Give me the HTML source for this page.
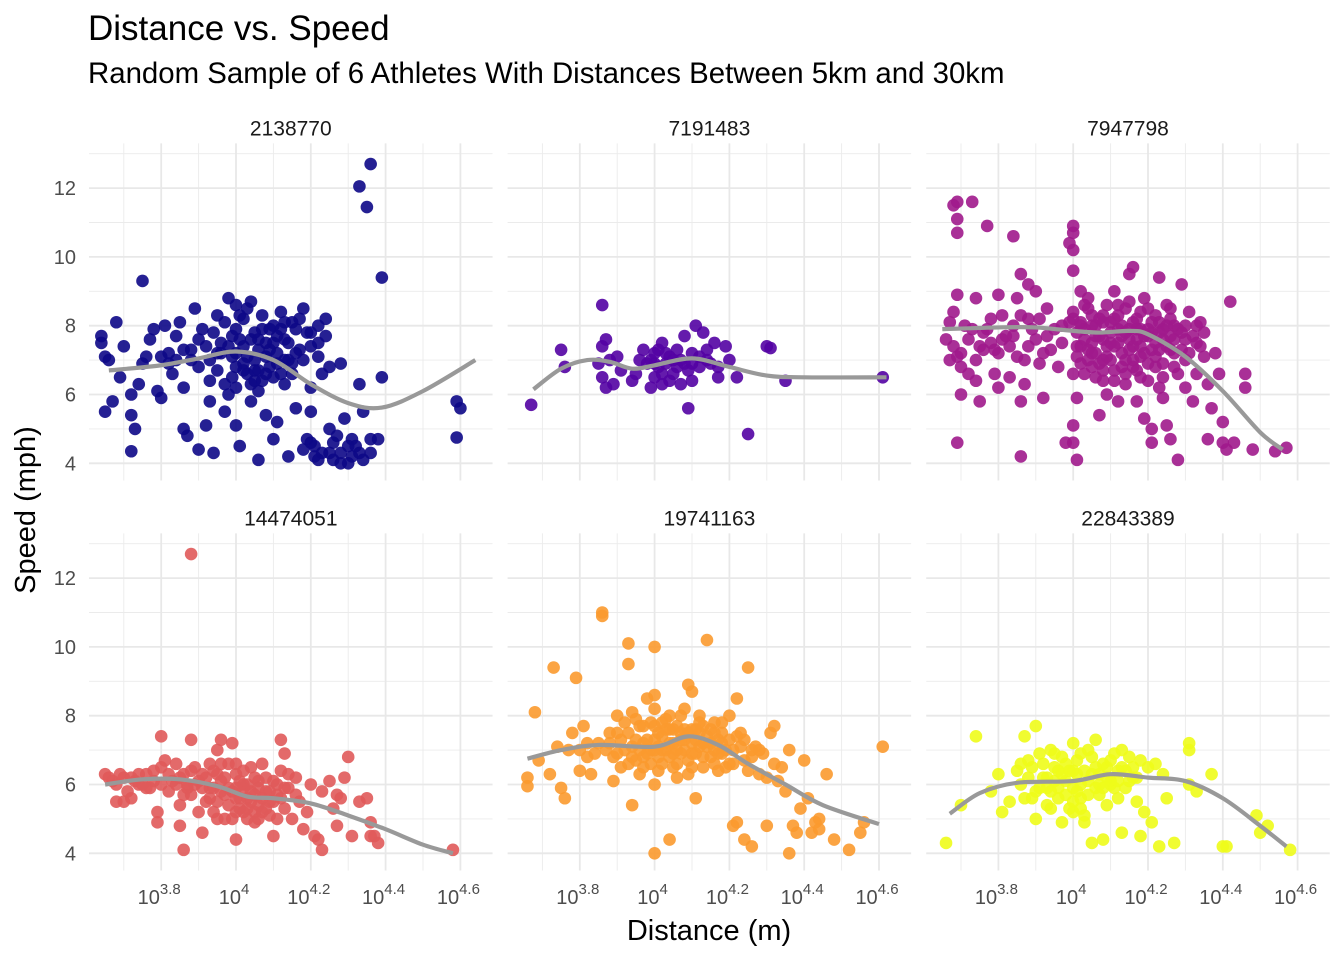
<!DOCTYPE html>
<html><head><meta charset="utf-8"><style>
body{margin:0;background:#fff;}
svg{display:block;font-family:"Liberation Sans",Arial,sans-serif;}
</style></head><body>
<svg id="chart" width="1344" height="960">
<text x="88" y="40" font-size="35" fill="#000">Distance vs. Speed</text>
<text x="88" y="83" font-size="29.4" fill="#000">Random Sample of 6 Athletes With Distances Between 5km and 30km</text>
<text x="709" y="940" font-size="29" text-anchor="middle" fill="#000">Distance (m)</text>
<text transform="translate(35,510) rotate(-90)" font-size="29" text-anchor="middle" fill="#000">Speed (mph)</text>
<g id="panels"></g>
</svg>
<script>
const athletes = ["2138770","7191483","7947798","14474051","19741163","22843389"];
const colors = ["#0d0887","#5302a3","#a01a8c","#e05a5a","#fb9a2f","#eefc1a"];
const yTicks = [4,6,8,10,12];
const xTickExps = ["3.8","4","4.2","4.4","4.6"];
const xTickVals = [3.8,4.0,4.2,4.4,4.6];
const pts0 = [[4.36,12.7],[4.33,12.05],[4.35,11.45],[4.39,9.4],[3.75,9.3],[4.59,5.8],[4.6,5.6],[4.59,4.75],[3.64,7.7],[3.64,7.5],[3.65,7.1],[3.66,7.0],[3.65,5.5],[3.67,5.8],[3.69,6.5],[3.68,8.1],[3.7,7.4],[3.72,6.0],[3.72,5.4],[3.73,5.0],[3.72,4.35],[3.74,6.3],[3.75,6.9],[3.76,7.1],[3.77,7.6],[3.78,7.9],[3.79,6.1],[3.8,5.9],[3.81,8.0],[3.82,7.2],[3.83,6.6],[3.84,7.7],[3.85,8.1],[3.86,6.2],[3.86,5.0],[3.87,4.8],[3.88,7.3],[3.89,8.5],[3.9,6.8],[3.9,4.4],[3.91,7.9],[3.92,5.1],[3.93,7.0],[3.93,5.8],[3.94,4.3],[3.95,8.3],[3.96,7.5],[3.97,6.3],[3.97,5.5],[3.98,8.8],[3.99,7.1],[4.0,8.6],[4.0,7.9],[4.0,6.8],[4.0,6.2],[4.0,5.1],[4.01,4.5],[4.02,8.2],[4.02,7.4],[4.03,6.6],[4.04,8.7],[4.04,5.8],[4.05,7.8],[4.05,7.0],[4.06,4.1],[4.06,6.1],[4.07,8.3],[4.08,7.5],[4.08,5.4],[4.09,6.8],[4.1,8.0],[4.1,4.7],[4.11,7.2],[4.11,5.2],[4.12,8.4],[4.13,7.6],[4.13,6.3],[4.14,4.2],[4.15,8.1],[4.15,6.9],[4.16,5.6],[4.17,7.3],[4.18,8.5],[4.19,4.7],[4.2,6.2],[4.2,5.5],[4.21,4.2],[4.21,4.5],[4.22,7.1],[4.22,8.0],[4.23,4.3],[4.23,6.6],[4.24,7.7],[4.25,6.8],[4.26,4.1],[4.28,6.9],[4.29,5.3],[4.31,4.7],[4.31,4.2],[4.32,4.5],[4.33,6.3],[4.34,5.5],[4.36,4.7],[4.36,4.3],[4.3,4.0],[4.34,4.1],[4.27,4.8],[4.38,4.7],[4.39,6.5],[4.25,5.0],[4.07,6.4],[4.03,7.1],[3.98,6.0],[4.12,6.6],[4.09,7.9],[4.06,7.3],[4.01,7.6],[3.95,6.7],[4.14,7.0],[4.04,7.6],[4.08,7.1],[3.99,7.7],[4.11,7.7],[4.02,6.9],[3.96,7.2],[4.16,7.9],[4.06,6.7],[3.92,7.4],[4.13,7.0],[4.05,6.4],[4.1,6.5],[3.94,7.8],[3.97,8.1],[4.01,8.3],[4.03,8.5],[4.07,7.9],[4.09,7.3],[4.12,7.9],[4.14,7.5],[4.16,7.2],[4.17,8.2],[4.19,7.8],[4.2,7.4],[3.95,7.2],[3.98,7.4],[4.0,7.2],[4.02,6.7],[4.05,6.7],[4.08,6.6],[4.11,6.9],[4.15,6.6],[3.9,7.6],[3.88,7.0],[3.86,7.3],[3.93,6.4],[3.99,6.5],[4.04,6.3],[4.06,7.6],[4.1,7.5],[4.13,8.1],[4.18,7.0],[4.2,7.8],[4.22,7.5],[4.24,8.2],[3.84,7.0],[3.82,6.9],[3.8,7.1],[4.26,4.6],[4.28,4.3],[4.3,4.5],[4.33,4.3],[4.25,4.3],[4.22,4.1],[4.2,4.6],[4.18,4.4],[4.28,4.0]];
const pts1 = [[3.67,5.7],[3.75,7.3],[3.76,6.8],[3.86,8.6],[3.85,6.9],[3.86,7.4],[3.87,7.6],[3.88,7.0],[3.86,6.5],[3.87,6.2],[3.89,6.3],[3.9,7.1],[3.91,6.7],[3.94,6.4],[3.95,6.6],[3.96,7.0],[3.97,7.3],[3.98,6.9],[3.99,6.2],[4.0,6.5],[4.0,7.2],[4.01,6.8],[4.02,7.5],[4.02,6.3],[4.03,6.9],[4.04,7.1],[4.05,6.6],[4.06,7.3],[4.07,7.0],[4.07,6.3],[4.08,7.7],[4.09,6.7],[4.09,5.6],[4.1,7.2],[4.1,6.4],[4.11,8.0],[4.12,6.8],[4.13,7.8],[4.14,7.3],[4.15,6.9],[4.16,7.5],[4.17,6.5],[4.17,6.8],[4.19,7.4],[4.2,7.0],[4.22,6.5],[4.25,4.85],[4.3,7.4],[4.31,7.35],[4.35,6.4],[4.61,6.5],[4.03,7.2],[4.05,7.0],[4.08,6.9],[4.12,7.1],[4.0,6.9],[4.02,6.6],[4.04,6.4],[4.06,6.8],[4.1,6.9],[4.14,7.0],[3.99,7.0],[4.01,7.3]];
const pts2 = [[3.68,11.5],[3.69,11.6],[3.73,11.6],[3.69,11.1],[3.69,10.7],[3.77,10.9],[3.84,10.6],[3.86,9.5],[3.88,9.2],[3.9,9.0],[3.69,8.9],[3.74,8.8],[3.8,8.9],[3.85,8.8],[3.68,8.4],[3.67,8.1],[3.69,7.1],[3.72,7.6],[3.66,7.6],[3.67,7.0],[3.7,7.2],[3.7,6.8],[3.7,6.0],[3.72,6.6],[3.74,6.4],[3.75,5.8],[3.76,7.3],[3.77,7.9],[3.78,7.5],[3.79,6.6],[3.8,6.2],[3.81,8.3],[3.82,7.7],[3.83,6.5],[3.85,7.1],[3.86,5.8],[3.87,6.3],[3.88,8.2],[3.9,7.6],[3.91,6.9],[3.92,5.9],[3.93,8.5],[3.94,7.3],[3.96,6.8],[3.97,8.0],[3.98,4.6],[3.69,4.6],[3.86,4.2],[3.99,10.4],[4.0,10.9],[4.0,10.7],[4.0,10.2],[4.0,9.6],[4.02,9.0],[4.03,8.6],[4.04,8.5],[4.0,8.4],[4.0,8.2],[4.01,7.8],[4.02,7.4],[4.02,6.9],[4.0,6.6],[4.01,5.9],[4.0,4.6],[4.01,4.1],[4.0,5.1],[4.04,8.8],[4.05,8.0],[4.05,7.2],[4.06,6.5],[4.07,7.7],[4.07,5.4],[4.08,8.3],[4.08,7.0],[4.09,6.0],[4.1,8.1],[4.1,7.5],[4.11,9.0],[4.11,6.7],[4.12,5.8],[4.12,7.9],[4.13,7.2],[4.14,8.5],[4.14,6.3],[4.15,9.5],[4.15,7.6],[4.16,9.7],[4.16,7.0],[4.17,8.2],[4.17,5.8],[4.18,7.4],[4.18,6.5],[4.19,8.8],[4.19,5.3],[4.2,7.9],[4.2,6.9],[4.21,4.6],[4.21,5.0],[4.22,8.3],[4.22,7.1],[4.23,6.2],[4.23,9.4],[4.24,7.6],[4.24,5.9],[4.25,8.6],[4.25,5.1],[4.26,7.3],[4.26,4.7],[4.27,8.0],[4.28,6.6],[4.28,4.1],[4.29,9.2],[4.29,7.8],[4.3,7.0],[4.3,6.2],[4.31,8.4],[4.32,5.8],[4.33,7.5],[4.33,6.6],[4.34,8.1],[4.35,7.1],[4.36,6.3],[4.36,4.7],[4.37,5.6],[4.38,7.2],[4.39,6.6],[4.4,4.6],[4.4,5.2],[4.41,4.4],[4.42,8.7],[4.43,4.6],[4.46,6.6],[4.46,6.2],[4.48,4.4],[4.54,4.35],[4.57,4.45],[4.03,7.9],[4.06,7.7],[4.09,8.6],[4.13,8.0],[4.16,8.1],[4.2,7.7],[4.24,7.9],[4.27,7.6],[4.11,7.4],[4.15,7.3],[4.18,7.9],[4.22,7.5],[4.08,7.6],[4.05,7.5],[4.13,7.7],[4.19,7.2],[4.01,7.1],[4.26,8.2],[4.3,8.0],[4.33,8.0],[4.07,8.2],[4.14,7.0],[4.21,7.3],[4.29,7.3],[4.09,7.1],[4.17,7.6],[4.04,7.3],[4.1,7.8],[4.12,8.3],[4.18,8.4],[4.23,8.1],[4.06,8.0],[4.15,8.7],[4.2,8.5],[4.25,7.4],[4.11,8.2],[4.02,8.1],[4.27,7.2],[4.16,6.8],[4.08,6.7],[4.24,6.9],[3.84,8.0],[3.89,7.9],[3.83,7.4],[3.76,7.8],[3.79,7.3],[4.03,7.6],[4.04,7.0],[4.06,7.2],[4.07,6.9],[4.09,7.4],[4.1,7.0],[4.12,7.5],[4.13,6.8],[4.15,7.9],[4.16,7.4],[4.18,7.1],[4.19,7.7],[4.21,7.8],[4.22,6.8],[4.23,7.3],[4.25,8.0],[4.26,7.7],[4.28,7.9],[4.3,7.6],[4.31,7.2],[4.32,7.7],[4.34,7.4],[4.35,7.8],[4.03,6.6],[4.05,6.8],[4.08,6.4],[4.11,6.4],[4.14,6.6],[4.17,6.7],[4.2,6.4],[4.24,6.5],[4.27,6.8],[4.01,7.4],[4.02,8.0],[4.05,8.3],[4.08,8.1],[4.12,8.6],[4.14,7.8],[4.17,7.9],[4.21,8.1],[4.23,7.8],[4.26,8.5],[3.73,7.9],[3.78,8.2],[3.81,7.6],[3.84,7.7],[3.86,8.3],[3.88,7.4],[3.91,8.2],[3.93,7.7],[3.95,7.9],[3.75,7.4],[3.71,8.0],[3.68,7.4],[3.97,7.5],[3.99,8.1],[3.74,7.0],[3.8,7.2],[3.87,7.0],[3.92,7.2]];
const pts3 = [[3.88,12.7],[3.8,7.4],[3.88,7.3],[3.95,7.0],[3.96,7.3],[3.99,7.2],[4.13,6.9],[4.12,7.3],[4.3,6.8],[3.65,6.3],[3.66,6.2],[3.67,6.1],[3.68,6.0],[3.69,6.3],[3.7,6.2],[3.71,5.8],[3.72,5.6],[3.68,5.5],[3.7,5.5],[3.73,6.1],[3.74,6.3],[3.75,6.0],[3.76,6.3],[3.77,5.9],[3.78,6.1],[3.79,5.2],[3.79,4.9],[3.8,6.5],[3.81,6.7],[3.82,5.8],[3.83,6.1],[3.84,6.6],[3.85,5.4],[3.85,4.8],[3.86,6.3],[3.86,4.1],[3.87,6.0],[3.88,5.7],[3.89,6.5],[3.9,5.2],[3.91,4.6],[3.92,6.2],[3.93,5.9],[3.94,6.4],[3.95,5.5],[3.96,6.1],[3.97,5.0],[3.98,6.6],[3.99,5.8],[4.0,4.4],[4.0,6.3],[4.01,5.3],[4.02,6.0],[4.03,5.6],[4.04,6.5],[4.05,4.9],[4.05,6.2],[4.06,5.4],[4.07,6.6],[4.08,5.8],[4.09,5.1],[4.1,6.1],[4.1,4.5],[4.11,5.7],[4.12,6.4],[4.13,5.3],[4.14,5.9],[4.15,5.0],[4.16,6.2],[4.17,5.5],[4.18,4.7],[4.19,5.2],[4.2,6.0],[4.21,4.5],[4.22,4.4],[4.23,5.8],[4.23,4.1],[4.25,6.1],[4.26,5.3],[4.27,5.7],[4.27,4.8],[4.28,5.6],[4.29,6.2],[4.31,4.5],[4.33,5.5],[4.35,5.6],[4.36,4.5],[4.37,4.5],[4.38,4.3],[4.36,4.9],[4.58,4.1],[4.02,5.9],[4.04,5.5],[4.06,5.9],[4.08,6.2],[3.97,5.7],[3.94,5.2],[4.0,5.6],[4.03,6.0],[3.91,5.9],[3.86,5.7],[3.99,5.0],[4.07,5.2],[4.11,5.0],[3.9,6.1],[3.95,6.3],[4.01,6.1],[3.84,6.0],[3.93,5.6],[4.05,5.7],[3.98,5.4],[4.09,5.5],[3.88,6.4],[4.02,5.2],[3.85,6.2],[3.87,5.9],[3.89,6.0],[3.91,6.3],[3.92,5.5],[3.94,5.9],[3.96,5.8],[3.97,6.2],[3.98,5.9],[4.0,5.9],[4.01,5.6],[4.02,6.4],[4.03,5.3],[4.04,5.8],[4.05,5.2],[4.06,6.1],[4.07,5.6],[4.08,5.3],[4.09,5.8],[4.1,5.5],[4.11,6.0],[4.12,5.6],[4.13,5.9],[3.82,6.3],[3.8,6.0],[3.78,6.4],[3.76,5.9],[3.74,6.0],[3.72,6.2],[3.95,5.0],[4.0,5.2],[3.93,6.6],[3.96,6.6],[4.0,6.6],[4.06,5.0],[4.03,5.0],[4.14,6.3],[4.16,5.7]];
const pts4 = [[3.66,5.95],[3.66,6.2],[3.68,8.1],[3.69,6.7],[3.73,9.4],[3.72,6.3],[3.74,7.1],[3.75,5.9],[3.76,5.6],[3.79,9.1],[3.78,7.5],[3.8,6.4],[3.81,7.7],[3.82,6.8],[3.83,6.3],[3.86,11.0],[3.86,10.9],[3.87,7.0],[3.88,7.5],[3.89,6.1],[3.9,8.0],[3.91,6.5],[3.92,7.8],[3.93,10.1],[3.93,9.5],[3.94,5.4],[3.94,6.8],[3.95,7.3],[3.96,7.7],[3.97,6.5],[3.98,8.5],[3.99,7.0],[4.0,8.6],[4.0,10.0],[4.0,4.0],[4.0,6.0],[4.01,7.5],[4.02,6.6],[4.03,7.9],[4.04,4.4],[4.05,7.2],[4.06,6.2],[4.07,8.0],[4.08,7.0],[4.09,8.9],[4.1,8.7],[4.1,6.5],[4.11,5.6],[4.11,7.6],[4.12,8.0],[4.13,7.2],[4.14,10.2],[4.15,6.8],[4.16,7.8],[4.17,6.4],[4.18,7.5],[4.19,7.0],[4.2,8.0],[4.21,4.8],[4.21,6.6],[4.22,4.9],[4.22,8.5],[4.23,7.5],[4.24,6.7],[4.24,4.4],[4.25,9.4],[4.26,4.2],[4.27,7.1],[4.28,6.3],[4.29,6.9],[4.3,4.8],[4.31,7.5],[4.32,7.7],[4.33,6.1],[4.34,6.5],[4.35,5.8],[4.36,7.0],[4.36,4.0],[4.37,4.8],[4.38,4.6],[4.39,5.3],[4.4,6.7],[4.41,5.6],[4.42,4.6],[4.43,4.9],[4.44,4.7],[4.44,5.0],[4.46,6.3],[4.48,4.4],[4.52,4.1],[4.55,4.6],[4.56,4.9],[4.61,7.1],[3.97,7.2],[4.02,7.4],[4.05,6.9],[4.08,7.6],[4.12,7.1],[4.06,7.7],[4.03,7.0],[3.98,6.9],[4.14,7.4],[4.17,7.3],[4.09,6.7],[4.01,6.4],[3.92,7.0],[3.96,6.3],[4.19,6.5],[4.23,7.1],[4.0,7.3],[4.04,7.6],[4.07,7.3],[4.1,7.2],[4.13,7.7],[3.99,7.8],[4.06,6.6],[3.95,6.7],[4.15,7.6],[4.11,6.9],[4.02,7.8],[3.9,6.9],[4.18,6.9],[4.26,6.8],[3.88,7.2],[3.89,6.8],[3.91,7.3],[3.93,7.5],[3.94,7.1],[3.95,7.9],[3.96,7.0],[3.97,7.7],[3.98,7.3],[3.99,6.6],[4.0,7.0],[4.0,7.7],[4.01,7.1],[4.02,7.0],[4.03,7.6],[4.04,6.8],[4.04,7.2],[4.05,7.6],[4.06,7.0],[4.07,7.5],[4.07,6.9],[4.08,7.3],[4.09,7.5],[4.1,7.6],[4.1,6.9],[4.11,7.3],[4.12,7.5],[4.13,6.8],[4.14,7.1],[4.15,7.2],[4.16,7.0],[4.16,7.5],[4.17,6.9],[4.18,7.2],[4.2,7.3],[4.21,7.0],[4.22,7.4],[4.24,7.3],[4.26,7.0],[4.28,7.0],[3.85,7.2],[3.84,6.9],[3.82,7.2],[3.8,7.0],[3.77,7.0],[3.93,6.6],[3.97,6.8],[4.01,6.8],[4.05,6.5],[4.09,6.3],[4.13,6.5],[4.16,6.6],[4.2,6.6],[4.25,6.4],[4.3,6.2],[4.32,6.6],[3.9,7.5],[3.94,8.1],[4.0,8.2],[4.04,8.0],[4.08,8.2],[4.12,7.8],[4.18,7.8]];
const pts5 = [[3.66,4.3],[3.7,5.4],[3.74,7.4],[3.78,5.8],[3.8,6.3],[3.81,5.2],[3.83,5.5],[3.87,7.4],[3.9,7.7],[3.85,6.4],[3.86,6.0],[3.88,6.7],[3.89,5.6],[3.9,5.0],[3.91,6.9],[3.92,6.2],[3.93,5.4],[3.94,7.0],[3.95,6.5],[3.96,5.9],[3.97,4.9],[3.97,6.8],[3.98,6.1],[3.99,5.3],[4.0,7.2],[4.0,6.4],[4.01,5.8],[4.02,6.9],[4.03,5.1],[4.03,4.9],[4.04,7.0],[4.05,6.3],[4.05,4.3],[4.06,7.3],[4.07,5.7],[4.08,6.6],[4.08,4.4],[4.09,5.4],[4.1,6.1],[4.11,6.9],[4.12,5.6],[4.13,7.0],[4.13,4.6],[4.14,6.4],[4.15,6.8],[4.16,6.2],[4.17,5.5],[4.18,6.7],[4.18,4.5],[4.19,5.2],[4.2,6.5],[4.21,4.9],[4.22,6.6],[4.23,4.2],[4.24,6.3],[4.25,5.6],[4.27,4.3],[4.31,7.2],[4.31,7.0],[4.31,6.0],[4.33,5.8],[4.37,6.3],[4.4,4.2],[4.41,4.2],[4.49,5.1],[4.5,4.6],[4.52,4.8],[4.58,4.1],[3.95,6.1],[4.02,6.0],[4.07,6.3],[4.1,6.0],[4.15,6.1],[3.93,6.2],[4.0,5.9],[4.04,6.1],[4.12,6.4],[3.98,6.6],[3.94,5.8],[4.01,6.3],[4.06,5.9],[3.91,5.9],[4.09,6.5],[3.96,6.4],[3.88,6.2],[3.89,6.5],[3.9,5.8],[3.92,6.6],[3.93,5.9],[3.95,6.9],[3.96,5.6],[3.97,6.3],[3.98,5.7],[3.99,6.4],[4.0,5.5],[4.01,6.7],[4.02,5.6],[4.03,6.4],[4.04,5.7],[4.05,6.8],[4.06,6.5],[4.07,6.0],[4.08,5.9],[4.09,6.2],[4.1,6.7],[4.11,5.9],[4.12,6.1],[4.13,6.5],[4.14,5.9],[4.16,6.5],[4.17,6.2],[3.87,5.6],[3.86,6.6],[3.94,5.3],[4.0,5.2],[4.02,5.3]];
const pointSets = [pts0,pts1,pts2,pts3,pts4,pts5];
const smooth0 = [[3.66,6.7],[3.8,6.85],[3.9,7.05],[4.0,7.25],[4.1,7.0],[4.2,6.3],[4.3,5.75],[4.39,5.62],[4.5,6.1],[4.64,7.0]];
const smooth1 = [[3.676,6.15],[3.75,6.75],[3.82,7.0],[3.88,6.95],[3.94,6.75],[4.0,6.85],[4.1,7.05],[4.2,6.8],[4.3,6.55],[4.4,6.5],[4.62,6.5]];
const smooth2 = [[3.65,7.9],[3.8,7.95],[3.9,7.95],[4.0,7.85],[4.07,7.8],[4.15,7.85],[4.2,7.75],[4.3,7.1],[4.4,6.1],[4.5,4.9],[4.56,4.4]];
const smooth3 = [[3.65,6.0],[3.75,6.15],[3.85,6.15],[3.95,5.95],[4.03,5.65],[4.1,5.6],[4.2,5.45],[4.3,5.1],[4.4,4.7],[4.5,4.25],[4.58,4.0]];
const smooth4 = [[3.66,6.75],[3.75,7.0],[3.85,7.15],[4.0,7.1],[4.09,7.4],[4.17,7.15],[4.25,6.6],[4.35,6.0],[4.45,5.4],[4.6,4.85]];
const smooth5 = [[3.67,5.15],[3.75,5.75],[3.85,6.05],[4.0,6.1],[4.1,6.3],[4.2,6.2],[4.3,6.1],[4.4,5.6],[4.5,4.8],[4.57,4.2]];
const smoothSets = [smooth0,smooth1,smooth2,smooth3,smooth4,smooth5];

const NS="http://www.w3.org/2000/svg";
const root=document.getElementById('panels');
function xs(c,v){return 236+c*418.6+(v-4)*374;}
function ys(r,v){return 463.3+r*390-(v-4)*34.4;}
function mk(tag,attrs,parent){const e=document.createElementNS(NS,tag);for(const k in attrs)e.setAttribute(k,attrs[k]);parent.appendChild(e);return e;}

for(let i=0;i<6;i++){
  const c=i%3,r=Math.floor(i/3);
  const g=mk('g',{},root);
  
  
  const x0=xs(c,3.607),x1=xs(c,4.686),y0=ys(r,13.3),y1=ys(r,3.5);
  for(let v=5;v<=13;v+=2){const l=mk('line',{x1:x0,x2:x1,y1:ys(r,v),y2:ys(r,v),stroke:'#ebebeb','stroke-width':0.9},g);}
  for(let v=3.7;v<4.6;v+=0.2){const l=mk('line',{x1:xs(c,v),x2:xs(c,v),y1:y0,y2:y1,stroke:'#ebebeb','stroke-width':0.9},g);}
  yTicks.forEach(v=>{const l=mk('line',{x1:x0,x2:x1,y1:ys(r,v),y2:ys(r,v),stroke:'#e8e8e8','stroke-width':1.8},g);});
  xTickVals.forEach(v=>{const l=mk('line',{x1:xs(c,v),x2:xs(c,v),y1:y0,y2:y1,stroke:'#e8e8e8','stroke-width':1.8},g);});
  const st=mk('text',{x:(x0+x1)/2,y:ys(r,13.3)-8,'font-size':21,'text-anchor':'middle',fill:'#1a1a1a'},g);
  st.textContent=athletes[i];
  
  
  if(c===0){yTicks.forEach(v=>{const t=mk('text',{x:76,y:ys(r,v)+7,'font-size':20,'text-anchor':'end',fill:'#4d4d4d'},g);t.textContent=v;});}
  if(r===1){xTickVals.forEach((v,k)=>{const t=mk('text',{x:xs(c,v)-2,y:904,'font-size':20,'text-anchor':'middle',fill:'#4d4d4d'},g);
    const a=document.createElementNS(NS,'tspan');a.textContent='10';t.appendChild(a);
    const b=document.createElementNS(NS,'tspan');b.setAttribute('dy','-10');b.setAttribute('font-size','15');b.textContent=xTickExps[k];t.appendChild(b);
    });}
  pointSets[i].forEach(p=>{const d=mk('circle',{cx:xs(c,p[0]),cy:ys(r,p[1]),r:6.3,fill:colors[i],'fill-opacity':0.9},g);
    
    });
  const s=smoothSets[i].map(p=>[xs(c,p[0]),ys(r,p[1])]);
  let dstr='M'+s[0][0]+','+s[0][1];
  for(let k=0;k<s.length-1;k++){
    const p0=s[Math.max(k-1,0)],p1=s[k],p2=s[k+1],p3=s[Math.min(k+2,s.length-1)];
    const c1=[p1[0]+(p2[0]-p0[0])/6,p1[1]+(p2[1]-p0[1])/6];
    const c2=[p2[0]-(p3[0]-p1[0])/6,p2[1]-(p3[1]-p1[1])/6];
    dstr+=' C'+c1[0]+','+c1[1]+' '+c2[0]+','+c2[1]+' '+p2[0]+','+p2[1];
  }
  const pl=mk('path',{d:dstr,fill:'none',stroke:'#999999','stroke-width':4.2,'stroke-linecap':'butt'},g);
  
  
}
</script>
</body></html>
